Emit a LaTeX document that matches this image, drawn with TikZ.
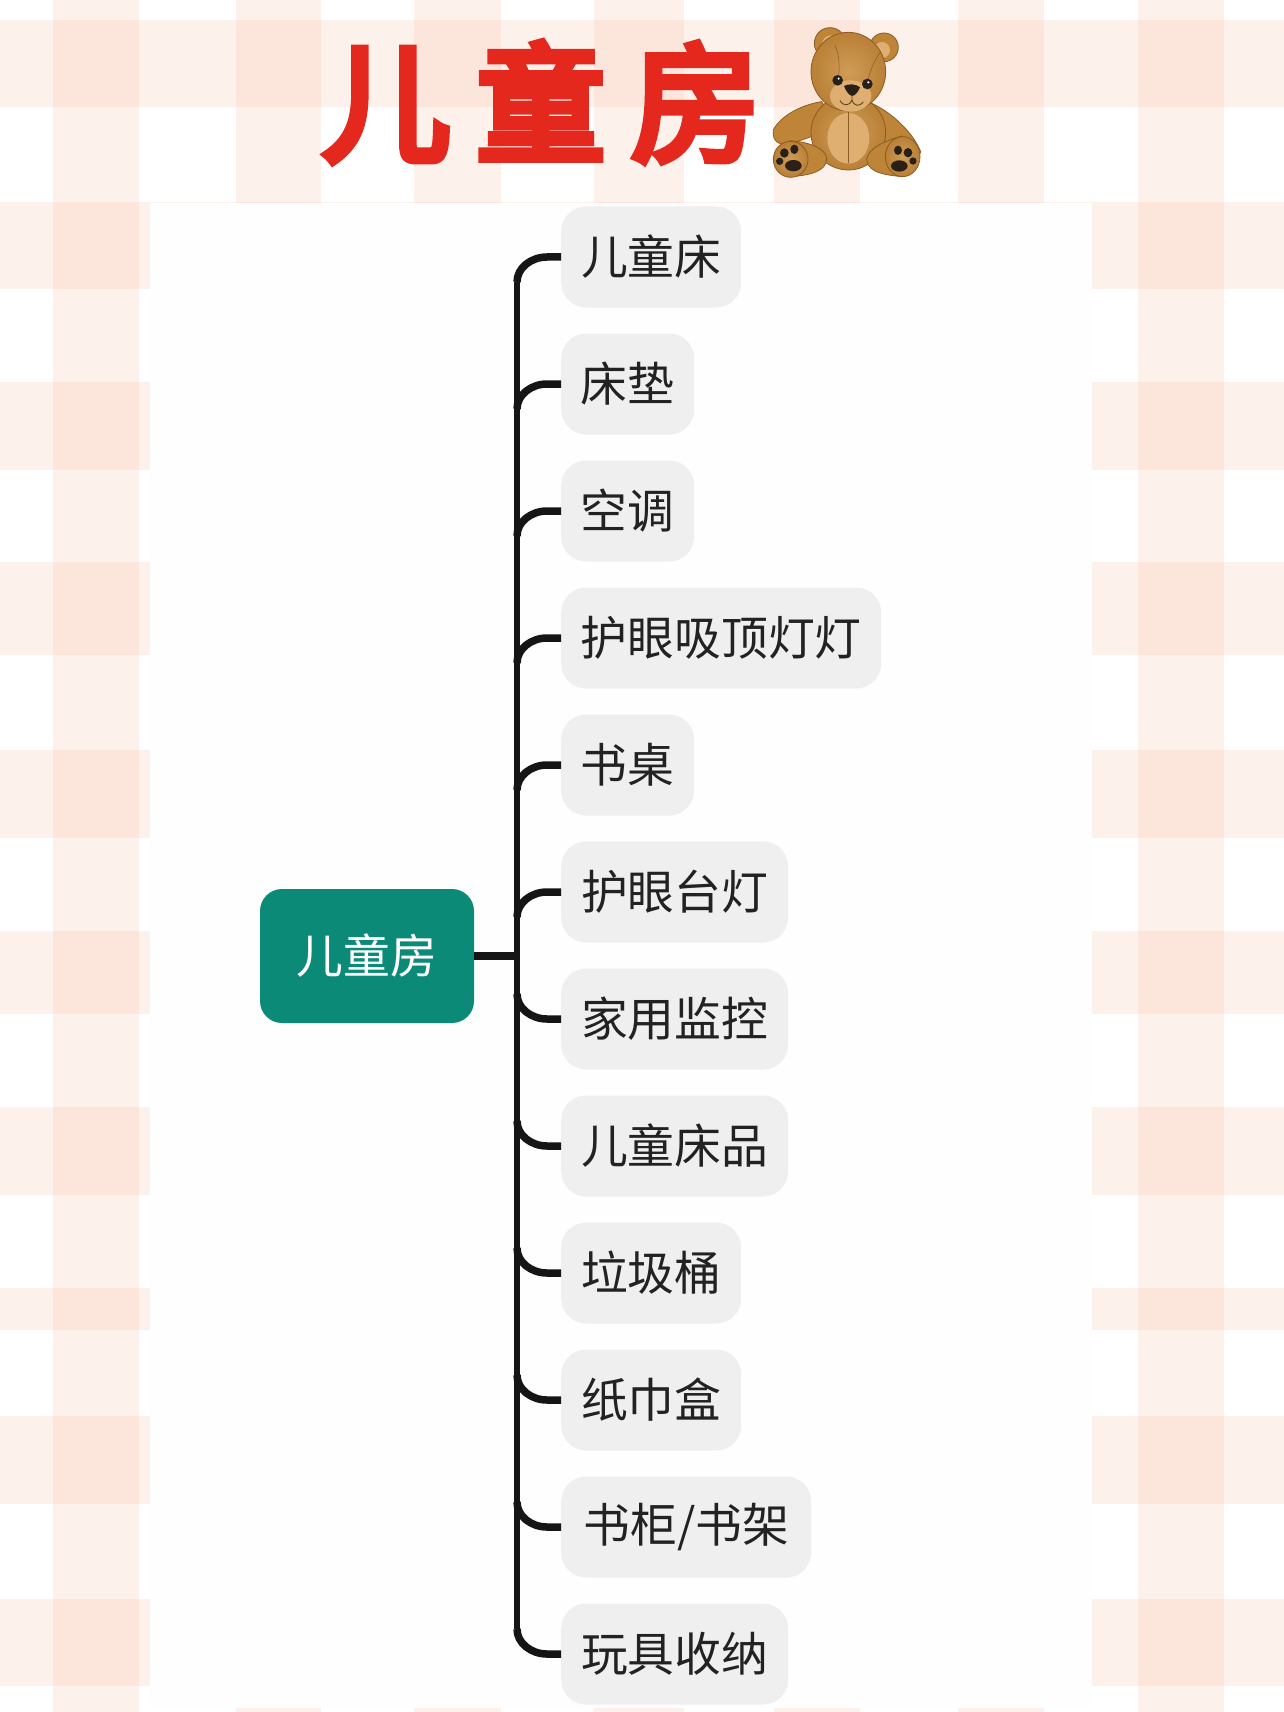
\documentclass[tikz,border=0pt]{standalone}
\usepackage{fontspec}
\setmainfont{Noto Sans CJK SC}
\newfontfamily\titlefont[FakeBold=6,LetterSpace=20]{Noto Sans CJK SC}
\definecolor{peach}{RGB}{250,200,178}
\definecolor{rootgreen}{RGB}{11,138,120}
\definecolor{leafgray}{RGB}{239,239,239}
\definecolor{inkc}{RGB}{21,21,21}
\definecolor{leaftext}{RGB}{34,34,34}
\definecolor{titlered}{RGB}{229,40,30}
\definecolor{bearmain}{RGB}{190,132,56}
\definecolor{bearlight}{RGB}{222,175,112}
\definecolor{beardark}{RGB}{140,92,36}
\definecolor{bearpad}{RGB}{42,32,26}
\tikzset{
  band/.style={fill=peach,fill opacity=.25,draw=none},
  leafbox/.style={fill=leafgray,rounded corners=25pt,minimum height=101pt,inner sep=0pt,anchor=west,
    text=leaftext,font=\fontsize{46.8}{50}\selectfont},
  rootbox/.style={fill=rootgreen,rounded corners=22pt,minimum width=214pt,minimum height=134pt,inner sep=0pt,
    text=white,font=\fontsize{46.8}{50}\selectfont},
  conn/.style={draw=inkc,line width=7.5pt},
  fur/.style={fill=bearmain,draw=beardark,line width=.8pt},
  furshade/.style={inner color=bearlight!55!bearmain,outer color=bearmain!90!beardark,draw=beardark,line width=.8pt},
  pad/.style={fill=bearpad,draw=none},
}
\begin{document}
\begin{tikzpicture}[x=1pt,y=-1pt]
\useasboundingbox (0,0) rectangle (1284,1712);
\fill[white] (0,0) rectangle (1284,1712);
% gingham
\foreach \a/\b in {53/139,236/321,414/501,594/684,774/860,958/1044,1138/1224}
  \path[band] (\a,0) rectangle (\b,1712);
\foreach \a/\b in {20/107,202/289,382/470,562/655,750/838,931/1014,1107/1195,1288/1330,1416/1504,1599/1686}
  \path[band] (0,\a) rectangle (1284,\b);
% panel
\fill[white!99.6!black] (150,203) rectangle (1092,1708);

% title
\node[text=titlered,font=\titlefont\fontsize{129}{134}\selectfont,inner sep=0pt,anchor=center] (title) at (541,102) {儿童房};

% bear
\begin{scope}[shift={(760,10)},x=.3333pt,y=-.3333pt]
  % ears
  \path[fur] (210,100) circle (47);
  \path[fill=bearlight] (213,103) circle (27);
  \path[fur] (372,112) circle (43);
  \path[fill=bearlight] (366,120) circle (24);
  % arms
  \path[fur] (185,275) .. controls (120,285) and (60,320) .. (40,360)
     .. controls (35,395) and (60,410) .. (95,400)
     .. controls (140,385) and (190,370) .. (225,340) -- cycle;
  \path[fur] (335,280) .. controls (400,310) and (460,370) .. (482,425)
     .. controls (480,450) and (430,430) .. (400,420)
     .. controls (370,400) and (330,370) .. (300,340) -- cycle;
  % body
  \path[furshade] (265,368) ellipse [x radius=112,y radius=112];
  \path[fill=bearlight] (265,385) ellipse [x radius=63,y radius=76];
  \draw[beardark,line width=.5pt] (265,305) -- (265,460);
  % legs
  \path[fur] (90,392) .. controls (135,395) and (195,410) .. (200,445)
     .. controls (200,485) and (150,495) .. (95,500) -- cycle;
  \path[fur] (425,378) .. controls (385,390) and (322,412) .. (320,450)
     .. controls (325,490) and (380,495) .. (425,500) -- cycle;
  \path[furshade] (92,448) ellipse [x radius=52,y radius=54];
  \path[furshade] (428,440) ellipse [x radius=52,y radius=60];
  % paw pads
  \path[pad] (100,467) ellipse [x radius=25,y radius=17];
  \path[pad] (59,454) ellipse [x radius=11,y radius=11];
  \path[pad] (73,429) ellipse [x radius=13,y radius=14];
  \path[pad] (103,418) ellipse [x radius=12,y radius=14];
  \path[pad] (418,468) ellipse [x radius=25,y radius=17];
  \path[pad] (459,453) ellipse [x radius=11,y radius=11];
  \path[pad] (444,428) ellipse [x radius=13,y radius=14];
  \path[pad] (414,421) ellipse [x radius=12,y radius=14];
  % head
  \path[furshade] (265,185) ellipse [x radius=112,y radius=118];
  \draw[beardark,line width=.5pt] (225,105) .. controls (240,140) and (238,175) .. (236,200);
  \draw[beardark,line width=.5pt] (362,125) .. controls (340,155) and (330,185) .. (325,208);
  % muzzle
  \path[fill=bearlight] (272,258) ellipse [x radius=62,y radius=47];
  % nose and mouth
  \path[pad] (252,228) .. controls (265,220) and (290,222) .. (300,232) .. controls (295,245) and (285,258) .. (276,258)
     .. controls (268,256) and (258,245) .. (252,228) -- cycle;
  \draw[beardark!70!black,line width=.9pt] (276,258) -- (276,270) (240,272) .. controls (250,290) and (270,288) .. (276,270)
     .. controls (282,290) and (300,290) .. (310,276);
  % eyes
  \path[pad] (233,211) circle (16);
  \path[pad] (322,222) circle (16);
  \path[fill=white] (236,206) circle (3.5);
  \path[fill=white] (325,217) circle (3.5);
\end{scope}

% root
\node[rootbox] (root) at (367,956) {儿童房};

% trunk coordinates
\coordinate (trunktop) at (517,282);
\coordinate (trunkbot) at (517,1629);
\coordinate (trunkmid) at (517,956);
\draw[conn,line width=6.5pt] (trunktop) -- (trunkbot);
\draw[conn] (root.east) -- (trunkmid);

% leaves and branches
\foreach \i/\w/\t/\s in {1/180/儿童床/-1,2/133/床垫/-1,3/133/空调/-1,4/320/护眼吸顶灯灯/-1,5/133/书桌/-1,6/227/护眼台灯/-1,
   7/227/家用监控/1,8/227/儿童床品/1,9/180/垃圾桶/1,10/180/纸巾盒/1,11/250/{书柜/书架}/1,12/227/玩具收纳/1}{
  \pgfmathsetmacro{\yy}{257+127*(\i-1)}
  \pgfmathsetmacro{\ye}{\yy-25*\s}
  \node[leafbox,minimum width=\w pt] (b\i) at (561,\yy) {\t};
  \coordinate (j\i) at (517,\ye);
  \draw[conn] (b\i.west) -- ++(-14,0) .. controls +(-16,0) and +(0,{14*\s}) .. (j\i);
}
\end{tikzpicture}
\end{document}
